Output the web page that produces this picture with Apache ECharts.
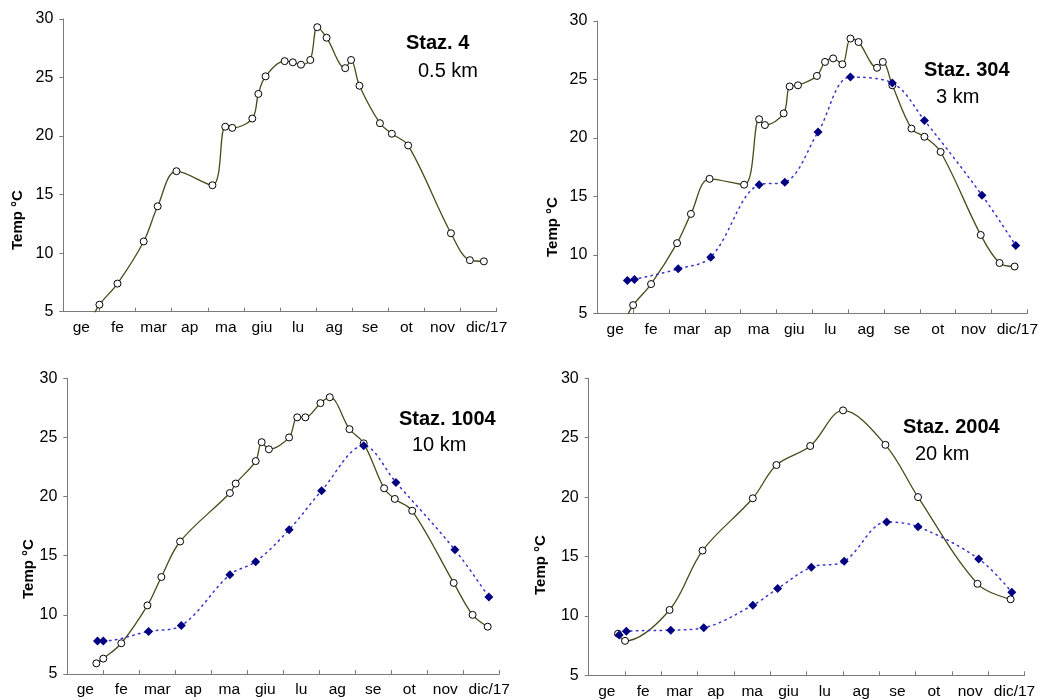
<!DOCTYPE html>
<html>
<head>
<meta charset="utf-8">
<title>Temperature stations</title>
<script src="https://cdn.jsdelivr.net/npm/echarts@6/dist/echarts.min.js"></script>
<style>
  html, body { margin: 0; padding: 0; background: #ffffff; }
  #chart { width: 1041px; height: 700px; }
</style>
</head>
<body>
<div id="chart"></div>
<script>
// Month labels for the x axis (2017)
const MONTHS = ['ge', 'fe', 'mar', 'ap', 'ma', 'giu', 'lu', 'ag', 'se', 'ot', 'nov', 'dic/17'];
const DAYS_IN_MONTH = [31, 28, 31, 30, 31, 30, 31, 31, 30, 31, 30, 31];

// Y axis ticks
const Y_MIN = 5, Y_MAX = 30, Y_STEP = 5;

// Station labels
const STATION_NAMES = ['Staz. 4', 'Staz. 304', 'Staz. 1004', 'Staz. 2004'];
const STATION_DIST = ['0.5 km', '3 km', '10 km', '20 km'];

// Staz. 4 – open circles
const staz4Dates = ['01-26','02-01','02-15','03-08','03-20','04-05','05-05','05-16','05-22','06-08','06-13','06-19','07-05','07-12','07-19','07-27','08-02','08-10','08-26','08-31','09-07','09-24','10-04','10-18','11-23','12-09','12-21'];
const staz4Temp  = [4.5, 5.6, 7.4, 11.0, 14.0, 17.0, 15.8, 20.8, 20.7, 21.5, 23.6, 25.1, 26.4, 26.3, 26.1, 26.5, 29.3, 28.4, 25.8, 26.5, 24.3, 21.1, 20.2, 19.2, 11.7, 9.4, 9.3];

// Staz. 304 – open circles
const staz304Dates = ['01-26','02-01','02-15','03-08','03-20','04-05','05-04','05-17','05-22','06-07','06-12','06-19','07-05','07-12','07-19','07-27','08-03','08-10','08-26','08-31','09-08','09-24','10-05','10-19','11-22','12-08','12-21'];
const staz304Temp  = [4.6, 5.7, 7.5, 11.0, 13.5, 16.5, 16.0, 21.6, 21.1, 22.1, 24.4, 24.5, 25.3, 26.5, 26.8, 26.3, 28.5, 28.2, 26.0, 26.5, 24.5, 20.8, 20.1, 18.8, 11.7, 9.3, 9.0];
// Staz. 304 – filled diamonds
const staz304DiamondDates = ['01-27','02-02','03-09','04-06','05-17','06-08','07-06','08-03','09-08','10-05','11-23','12-22'];
const staz304DiamondTemp  = [7.8, 7.9, 8.8, 9.8, 16.0, 16.2, 20.5, 25.2, 24.7, 21.5, 15.1, 10.8];

// Staz. 1004 – open circles
const staz1004Dates = ['01-26','02-01','02-15','03-08','03-20','04-05','05-17','05-22','06-08','06-13','06-19','07-06','07-13','07-20','08-02','08-10','08-27','09-08','09-25','10-04','10-19','11-23','12-09','12-22'];
const staz1004Temp  = [5.9, 6.3, 7.6, 10.8, 13.2, 16.2, 20.3, 21.1, 23.0, 24.6, 24.0, 25.0, 26.7, 26.7, 27.9, 28.4, 25.7, 24.5, 20.7, 19.8, 18.8, 12.7, 10.0, 9.0];
// Staz. 1004 – filled diamonds
const staz1004DiamondDates = ['01-27','02-01','03-09','04-06','05-17','06-08','07-06','08-03','09-08','10-05','11-24','12-23'];
const staz1004DiamondTemp  = [7.8, 7.8, 8.6, 9.1, 13.4, 14.5, 17.2, 20.5, 24.3, 21.2, 15.5, 11.5];

// Staz. 2004 – open circles
const staz2004Dates = ['01-26','02-01','03-08','04-05','05-17','06-06','07-04','08-01','09-06','10-03','11-22','12-20'];
const staz2004Temp  = [8.5, 7.9, 10.5, 15.5, 19.9, 22.7, 24.3, 27.3, 24.4, 20.0, 12.7, 11.4];
// Staz. 2004 – filled diamonds
const staz2004DiamondDates = ['01-27','02-02','03-09','04-06','05-17','06-07','07-05','08-02','09-07','10-03','11-23','12-21'];
const staz2004DiamondTemp  = [8.4, 8.7, 8.8, 9.0, 10.9, 12.3, 14.1, 14.6, 17.9, 17.5, 14.8, 12.0];

// Plot area of each panel (pixels)
const PANEL_BOXES = [
  { left: 63.3,  top: 19,    width: 433.4, height: 292.7 },
  { left: 597.3, top: 21,    width: 432,   height: 292.3 },
  { left: 67.3,  top: 378.3, width: 432,   height: 295.7 },
  { left: 588.7, top: 378.3, width: 436,   height: 297 }
];
// Label placement per panel
const NAME_POS   = [[406, 43], [924, 70], [399, 419], [903, 427]];
const DIST_POS   = [[418, 71], [936, 97], [412, 445], [915, 454]];
const YTITLE_POS = [[18, 220], [553, 227], [29, 569], [541, 565]];

const FONT = '"Liberation Sans", Arial, Helvetica, sans-serif';
const OLIVE = '#4a4a1c';
const NAVY = '#000080';
const DOT_BLUE = '#3434cc';

// "MM-DD" -> position in months from 1 January
function monthPos(mmdd) {
  const parts = mmdd.split('-').map(Number);
  const m = parts[0] - 1, d = parts[1];
  return m + (d - 1) / DAYS_IN_MONTH[m];
}

function toPoints(dates, temps) {
  return dates.map((d, i) => {
    const item = { value: [monthPos(d), temps[i]] };
    if (temps[i] < Y_MIN) item.symbol = 'none';
    return item;
  });
}

const PANEL_DATA = [
  { open: [staz4Dates, staz4Temp], filled: null },
  { open: [staz304Dates, staz304Temp], filled: [staz304DiamondDates, staz304DiamondTemp] },
  { open: [staz1004Dates, staz1004Temp], filled: [staz1004DiamondDates, staz1004DiamondTemp] },
  { open: [staz2004Dates, staz2004Temp], filled: [staz2004DiamondDates, staz2004DiamondTemp] }
];

const grid = [], xAxis = [], yAxis = [], series = [], graphic = [];

PANEL_BOXES.forEach((box, i) => {
  grid.push(Object.assign({ containLabel: false }, box));

  // numeric month axis carrying the data, line and ticks
  xAxis.push({
    type: 'value', gridIndex: i, position: 'bottom',
    min: 0, max: 12, interval: 1,
    axisLine: { show: true, onZero: false, lineStyle: { color: '#7a7a7a', width: 1 } },
    axisTick: { show: true, inside: true, length: 4, lineStyle: { color: '#7a7a7a' } },
    axisLabel: { show: false },
    splitLine: { show: false }
  });
  // month names centred between the ticks
  xAxis.push({
    type: 'category', gridIndex: i, position: 'bottom',
    data: MONTHS, boundaryGap: true,
    axisLine: { show: false }, axisTick: { show: false }, splitLine: { show: false },
    axisLabel: {
      interval: 0, margin: 8, color: '#000', fontSize: 15.5, fontFamily: FONT,
      formatter: v => v === MONTHS[MONTHS.length - 1] ? '{last|' + v + '}' : v,
      rich: { last: { padding: [0, 0, 0, 16], fontSize: 15.5, fontFamily: FONT, color: '#000' } }
    }
  });
  yAxis.push({
    type: 'value', gridIndex: i,
    min: Y_MIN, max: Y_MAX, interval: Y_STEP,
    axisLine: { show: true, onZero: false, lineStyle: { color: '#7a7a7a', width: 1 } },
    axisTick: { show: true, inside: false, length: 4, lineStyle: { color: '#7a7a7a' } },
    axisLabel: { color: '#000', fontSize: 16, fontFamily: FONT, margin: 10 },
    splitLine: { show: false }
  });

  const pd = PANEL_DATA[i];
  series.push({
    type: 'line', xAxisIndex: 2 * i, yAxisIndex: i,
    data: toPoints(pd.open[0], pd.open[1]),
    smooth: 0.35, clip: true,
    symbol: 'circle', symbolSize: 7,
    itemStyle: { color: '#ffffff', borderColor: '#000000', borderWidth: 1 },
    lineStyle: { color: OLIVE, width: 1.3 },
    z: 2
  });
  if (pd.filled) {
    series.push({
      type: 'line', xAxisIndex: 2 * i, yAxisIndex: i,
      data: toPoints(pd.filled[0], pd.filled[1]),
      smooth: 0.35, clip: true,
      symbol: 'diamond', symbolSize: 9,
      itemStyle: { color: NAVY, borderWidth: 0 },
      lineStyle: { color: DOT_BLUE, width: 1.5, type: [1.5, 4.5], cap: 'round' },
      z: 3
    });
  }

  graphic.push({
    type: 'text', x: NAME_POS[i][0], y: NAME_POS[i][1],
    style: { text: STATION_NAMES[i], font: 'bold 20px ' + FONT, fill: '#000', align: 'left', verticalAlign: 'middle' }
  });
  graphic.push({
    type: 'text', x: DIST_POS[i][0], y: DIST_POS[i][1],
    style: { text: STATION_DIST[i], font: '20px ' + FONT, fill: '#000', align: 'left', verticalAlign: 'middle' }
  });
  graphic.push({
    type: 'text', x: YTITLE_POS[i][0], y: YTITLE_POS[i][1], rotation: Math.PI / 2,
    style: { text: 'Temp °C', font: 'bold 15px ' + FONT, fill: '#000', align: 'center', verticalAlign: 'middle' }
  });
});

const chart = echarts.init(document.getElementById('chart'), null, { renderer: 'canvas' });
chart.setOption({
  animation: false,
  backgroundColor: '#ffffff',
  grid, xAxis, yAxis, series, graphic
});
</script>
</body>
</html>
